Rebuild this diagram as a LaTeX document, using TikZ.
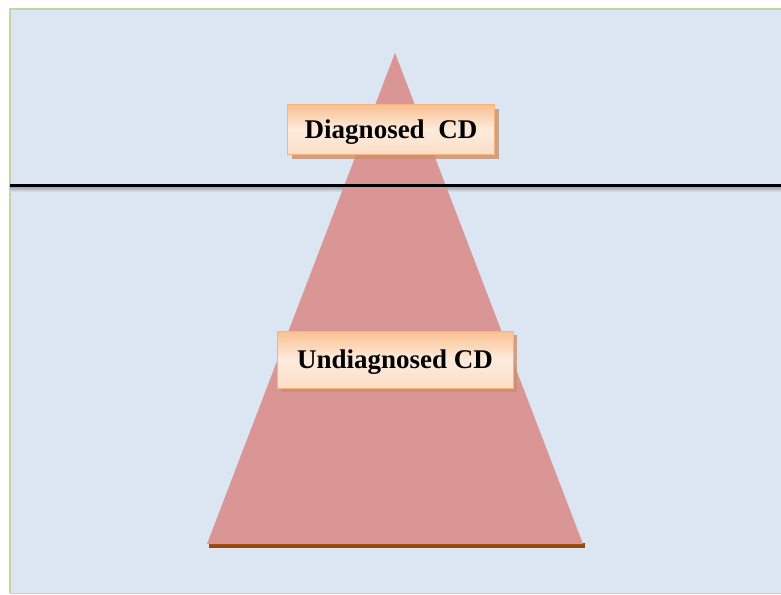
\documentclass[tikz,border=0pt]{standalone}
\usepackage{fontspec}
\setmainfont{Liberation Serif}
\usetikzlibrary{shadows}
\definecolor{bgblue}{HTML}{DCE6F2}
\definecolor{framegreen}{HTML}{C3D69B}
\definecolor{trired}{HTML}{D99694}
\definecolor{basebrown}{HTML}{984806}
\definecolor{boxorange}{HTML}{FAC090}
\definecolor{boxlight}{HTML}{FDEBDD}
\definecolor{boxedge}{HTML}{F7B47E}
\definecolor{boxshadow}{HTML}{C8906A}
\tikzset{
  labelbox/.style={draw=boxedge, line width=0.6pt, left color=boxorange, right color=boxlight!70!boxorange,
    middle color=boxlight, shading angle=0,
    font=\bfseries\fontsize{27}{30}\selectfont, text=black, inner sep=0pt,
    text height=18pt, text depth=0pt,
    drop shadow={shadow xshift=4pt, shadow yshift=-4pt, fill=boxshadow, opacity=0.8}},
}
\begin{document}
\begin{tikzpicture}[x=1pt,y=-1pt]
\useasboundingbox (0,0) rectangle (781,594);
\fill[white] (0,0) rectangle (781,594);
\fill[bgblue] (10,9) rectangle (781,594);
\draw[framegreen, line width=1.6pt] (10,593) -- (10,9) -- (781,9);
\draw[framegreen, line width=1pt] (10,593) -- (781,593);
% shadow of horizontal line (under the triangle)
\shade[top color=black!40, bottom color=bgblue] (10,186) rectangle (781,192);
% triangle
\fill[basebrown] (209,543) rectangle (585,547.5);
\fill[trired] (395,53) -- (583,544) -- (207,544) -- cycle;
% horizontal line
\draw[black, line width=3pt] (10,185) -- (781,185);
% labels
\node[labelbox, minimum width=207pt, minimum height=50pt] (diag) at (391,129.5) {Diagnosed\ \ CD};
\node[labelbox, minimum width=236pt, minimum height=57pt] (undiag) at (395,359.5) {Undiagnosed CD};
\end{tikzpicture}
\end{document}
